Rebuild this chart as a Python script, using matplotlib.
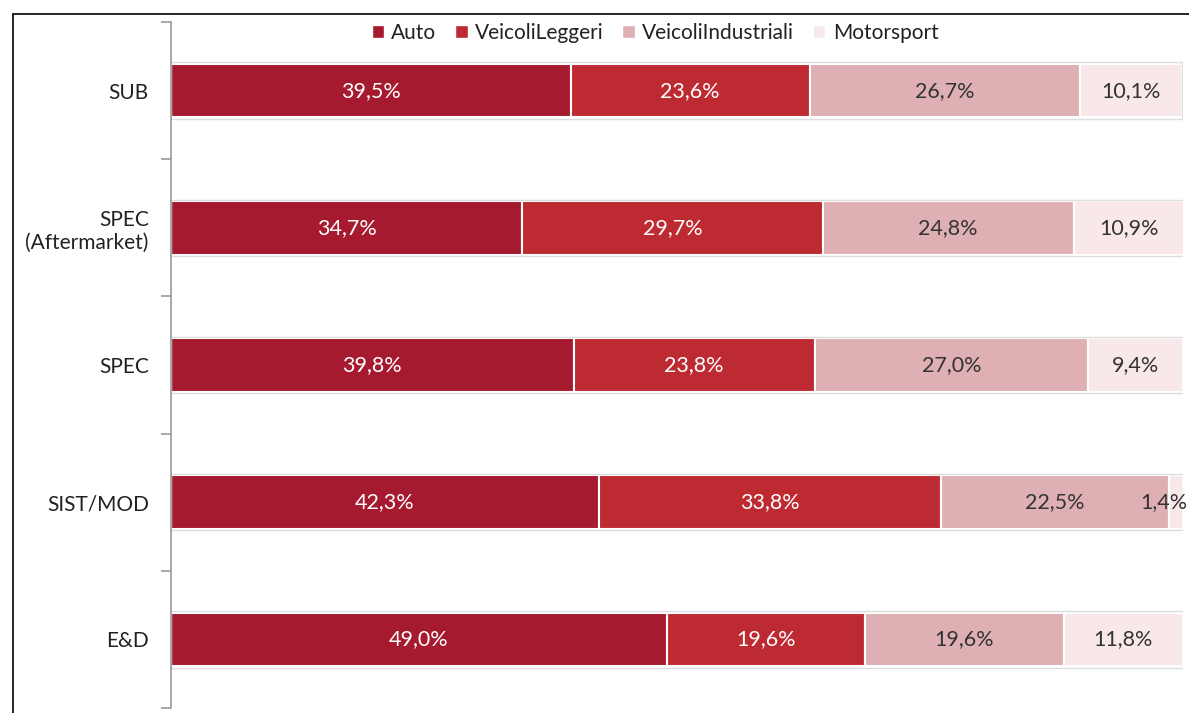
import matplotlib.pyplot as plt
from matplotlib.patches import Rectangle, Patch

plt.rcParams['font.family'] = ['Lato', 'DejaVu Sans']

categories = ["SUB", "SPEC\n(Aftermarket)", "SPEC", "SIST/MOD", "E&D"]
series = ["Auto", "VeicoliLeggeri", "VeicoliIndustriali", "Motorsport"]
auto = [39.5, 34.7, 39.8, 42.3, 49.0]
leggeri = [23.6, 29.7, 23.8, 33.8, 19.6]
industriali = [26.7, 24.8, 27.0, 22.5, 19.6]
motorsport = [10.1, 10.9, 9.4, 1.4, 11.8]

colors = ["#A51A2E", "#BE2A31", "#DFB0B3", "#F9E8EA"]
text_colors = ["white", "white", "#333333", "#333333"]

fig = plt.figure(figsize=(11.89, 7.13), dpi=100)
ax = fig.add_axes([171 / 1189, 5 / 713, 1012 / 1189, 686 / 713])

# outer frame (runs off the right and bottom edges)
fig.patches.append(Rectangle((13 / 1189, -0.1), 1.2, 1.1 - 14 / 713,
                             transform=fig.transFigure, fill=False,
                             edgecolor="black", linewidth=1.2))

y = list(range(len(categories)))
left = [0] * len(categories)
values = [auto, leggeri, industriali, motorsport]
for vals, name, col, tc in zip(values, series, colors, text_colors):
    bars = ax.barh(y, vals, left=left, height=0.39, color=col,
                   edgecolor="white", linewidth=1.5, label=name)
    for b, v in zip(bars, vals):
        label = f"{v:.1f}%".replace(".", ",")
        cy = b.get_y() + b.get_height() / 2
        if v < 3:
            # too thin for the label: keep it inside the plot edge
            ax.text(100.4, cy, label, ha="right", va="center", color=tc, fontsize=15.5)
        else:
            ax.text(b.get_x() + b.get_width() / 2, cy, label,
                    ha="center", va="center", color=tc, fontsize=15.5)
    left = [l + v for l, v in zip(left, vals)]

# faint outline round each whole bar
totals = left
ax.barh(y, totals, height=0.41, fill=False, edgecolor="#dddddd", linewidth=1)

ax.set_xlim(0, 100)
ax.set_ylim(len(categories) - 0.5, -0.5)
ax.set_yticks(y)
ax.set_yticklabels(categories, fontsize=15, color="#222222")
ax.set_yticks([i - 0.5 for i in range(len(categories) + 1)], minor=True)
ax.tick_params(axis="y", which="major", length=0, pad=16)
ax.tick_params(axis="y", which="minor", length=7, color="#999999", width=1.2)
ax.set_xticks([])
for s in ["top", "right", "bottom"]:
    ax.spines[s].set_visible(False)
ax.spines["left"].set_color("#999999")
ax.spines["left"].set_linewidth(1.2)

handles = [Patch(facecolor=c, edgecolor="white", label=n) for c, n in zip(colors, series)]
fig.legend(handles=handles, loc="center", bbox_to_anchor=(655 / 1189, 1 - 33 / 713),
           ncol=4, frameon=False, fontsize=15, handlelength=0.6, handleheight=0.6,
           handletextpad=0.35, columnspacing=0.9, labelcolor="#222222")

fig.savefig("out.png", dpi=100)
